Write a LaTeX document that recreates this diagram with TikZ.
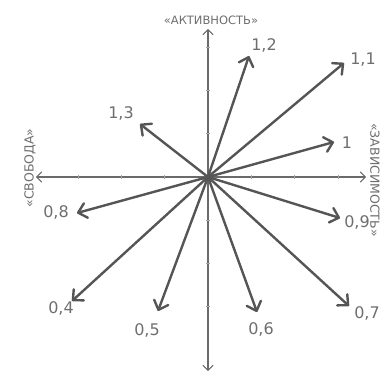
\documentclass[tikz,border=0pt]{standalone}
\usepackage{fontspec}
\setmainfont{DejaVu Sans}
\usepackage{tikz}
\usetikzlibrary{arrows.meta}

\definecolor{axisgray}{HTML}{6A6A6A}
\definecolor{vecgray}{HTML}{555555}
\definecolor{txtgray}{HTML}{6E6E6E}

\begin{document}
\begin{tikzpicture}[
  x=1pt, y=-1pt,
  axis/.style={draw=axisgray, line width=1.1pt, -{Straight Barb[length=5pt, width=10pt, round]}},
  vec/.style={draw=vecgray, line width=2.4pt, -{Straight Barb[length=8pt, width=15pt, round]}},
  tick/.style={draw=axisgray!60, line width=0.8pt},
  val/.style={font=\fontsize{16}{16}\selectfont, text=txtgray, inner sep=0pt},
  axlab/.style={font=\fontsize{11.5}{11.5}\selectfont, text=txtgray, inner sep=0pt},
  sidelab/.style={axlab, font=\fontsize{12.5}{12.5}\selectfont}
]
\useasboundingbox (0,0) rectangle (381,374);

% centre and axis ends
\coordinate (O) at (208,177);
\coordinate (top) at (208,29);
\coordinate (bot) at (208,371);
\coordinate (lft) at (36,177);
\coordinate (rgt) at (366,177);

\draw[axis] (O) -- (top);
\draw[axis] (O) -- (bot);
\draw[axis] (O) -- (lft);
\draw[axis] (O) -- (rgt);

% ticks
\foreach \k in {1,2,3} {
  \draw[tick] (208+43.3*\k,175) -- (208+43.3*\k,179);
  \draw[tick] (208-43.3*\k,175) -- (208-43.3*\k,179);
  \draw[tick] (206,177+43.3*\k) -- (210,177+43.3*\k);
  \draw[tick] (206,177-43.3*\k) -- (210,177-43.3*\k);
}

% axis labels
\node[axlab] (act) at (211,20) {«АКТИВНОСТЬ»};
\node[sidelab, rotate=-90] (dep) at (375,180) {«ЗАВИСИМОСТЬ»};
\node[sidelab, rotate=90] (free) at (30,168) {«СВОБОДА»};

% vector tips
\coordinate (t12) at (249,56);
\coordinate (t11) at (344,63);
\coordinate (t13) at (140,124);
\coordinate (t10) at (334,142);
\coordinate (t09) at (340,218);
\coordinate (t07) at (349,306);
\coordinate (t06) at (257,312);
\coordinate (t05) at (158,311);
\coordinate (t04) at (72,301);
\coordinate (t08) at (77,213);

\draw[vec] (O) -- (t12);
\draw[vec] (O) -- (t11);
\draw[vec] (O) -- (t13);
\draw[vec] (O) -- (t10);
\draw[vec] (O) -- (t09);
\draw[vec] (O) -- (t07);
\draw[vec] (O) -- (t06);
\draw[vec] (O) -- (t05);
\draw[vec] (O) -- (t04);
\draw[vec] (O) -- (t08);

% values
\node[val] (v12) at (264,45) {1,2};
\node[val] (v11) at (363,60) {1,1};
\node[val] (v13) at (121,113) {1,3};
\node[val] (v10) at (347,143) {1};
\node[val] (v09) at (357,222) {0,9};
\node[val] (v07) at (367,313) {0,7};
\node[val] (v06) at (261,329) {0,6};
\node[val] (v05) at (147,330) {0,5};
\node[val] (v04) at (61,308) {0,4};
\node[val] (v08) at (56,212) {0,8};
\end{tikzpicture}
\end{document}
